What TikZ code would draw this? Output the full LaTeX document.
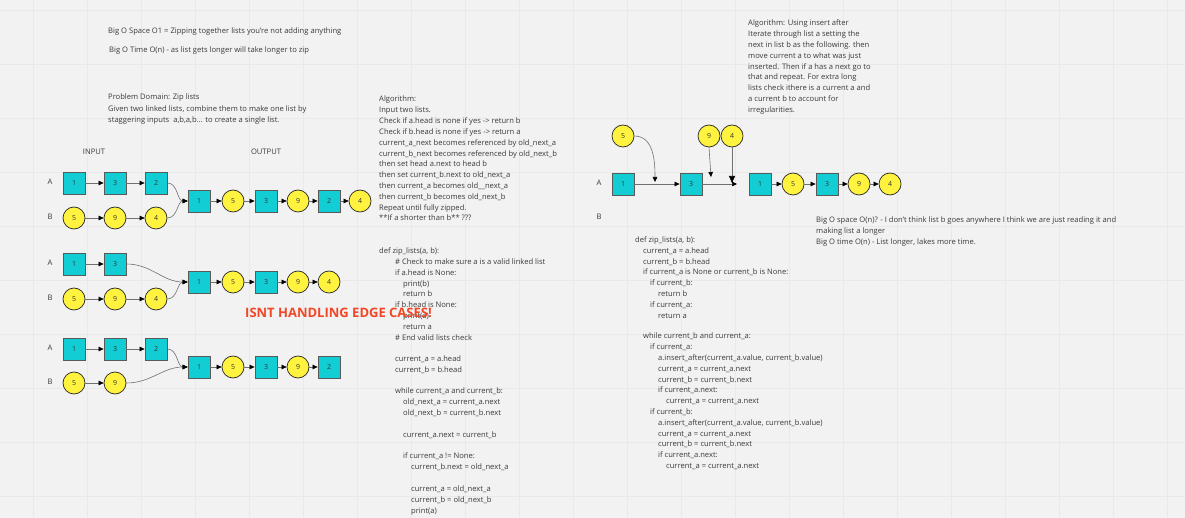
\documentclass[tikz,border=0pt]{standalone}
\usepackage{fontspec}
\setmainfont{Open Sans}
\usetikzlibrary{arrows.meta}
\definecolor{bg}{HTML}{F2F2F2}
\definecolor{gridc}{HTML}{E9E9E9}
\definecolor{teal1}{HTML}{12CDD4}
\definecolor{yel}{HTML}{FFF33F}
\definecolor{redc}{HTML}{F24726}
\definecolor{txtc}{HTML}{3A3A3A}
\definecolor{linec}{HTML}{707070}
\newcounter{tln}
\newcommand\tline[3]{\stepcounter{tln}\node[txt] (line\arabic{tln}) at (#1,#2) {#3};}
\begin{document}
\begin{tikzpicture}[x=1pt,y=-1pt,
  txt/.style={anchor=west,inner sep=0pt,font=\fontsize{7.6}{9}\selectfont,text=txtc,text height=5.4pt,text depth=1.6pt},
  lbl/.style={txt,anchor=center},
  sq/.style={draw=black!65,fill=teal1,minimum size=22pt,inner sep=0pt,line width=0.8pt,font=\fontsize{7}{8}\selectfont,text=black!80},
  cir/.style={circle,draw=black!85,fill=yel,minimum size=22pt,inner sep=0pt,line width=0.7pt,font=\fontsize{7}{8}\selectfont,text=black!80},
  arr/.style={draw=linec,line width=0.6pt,-{Triangle[length=5pt,width=4.5pt,color=black]}},
  bigarr/.style={draw=linec,line width=0.6pt,-{Triangle[length=7pt,width=6pt,color=black]}}]
\useasboundingbox (0,0) rectangle (1185,518);
\fill[bg] (0,0) rectangle (1185,518);
\foreach \x in {33,87,...,1185} \draw[gridc,line width=0.6pt] (\x,0) -- (\x,518);
\foreach \y in {10,64,...,518} \draw[gridc,line width=0.6pt] (0,\y) -- (1185,\y);

% top-left texts
\tline{108}{32}{Big O Space O1 = Zipping together lists you're not adding anything}
\tline{109}{51}{Big O Time O(n) - as list gets longer will take longer to zip}
\tline{108}{98}{Problem Domain: Zip lists}
\tline{108}{110}{Given two linked lists, combine them to make one list by}
\tline{108}{121}{staggering inputs\ \ a,b,a,b... to create a single list.}

% labels
\node[lbl] (inp) at (94,153) {INPUT};
\node[lbl] (outp) at (266,153) {OUTPUT};
\node[lbl] (la1) at (50,183) {A};
\node[lbl] (lb1) at (50,218) {B};
\node[lbl] (la2) at (50,264) {A};
\node[lbl] (lb2) at (50,299) {B};
\node[lbl] (la3) at (50,349) {A};
\node[lbl] (lb3) at (50,383) {B};
\node[lbl] (la4) at (599,184) {A};
\node[lbl] (lb4) at (599,218) {B};

% diagram 1
\node[sq] (a1) at (74,183) {1};
\node[sq] (a3) at (115,183) {3};
\node[sq] (a2) at (156,183) {2};
\node[cir] (b5) at (74,218) {5};
\node[cir] (b9) at (115,218) {9};
\node[cir] (b4) at (156,218) {4};
\node[sq] (o1) at (199,201) {1};
\node[cir] (o5) at (233,201) {5};
\node[sq] (o3) at (266,201) {3};
\node[cir] (o9) at (298,201) {9};
\node[sq] (o2) at (329,201) {2};
\node[cir] (o4) at (360,201) {4};
\draw[arr] (a1) -- (a3);
\draw[arr] (a3) -- (a2);
\draw[arr] (b5) -- (b9);
\draw[arr] (b9) -- (b4);
\draw[arr] (a2.east) to[out=0,in=180] (o1.west);
\draw[arr] (b4.east) to[out=0,in=180] (o1.west);
\draw[arr] (o1) -- (o5);
\draw[arr] (o5) -- (o3);
\draw[arr] (o3) -- (o9);
\draw[arr] (o9) -- (o2);
\draw[arr] (o2) -- (o4);

% diagram 2
\node[sq] (c1) at (74,264) {1};
\node[sq] (c3) at (115,264) {3};
\node[cir] (d5) at (74,299) {5};
\node[cir] (d9) at (115,299) {9};
\node[cir] (d4) at (156,299) {4};
\node[sq] (p1) at (199,282) {1};
\node[cir] (p5) at (233,282) {5};
\node[sq] (p3) at (266,282) {3};
\node[cir] (p9) at (298,282) {9};
\node[cir] (p4) at (329,282) {4};
\draw[arr] (c1) -- (c3);
\draw[arr] (d5) -- (d9);
\draw[arr] (d9) -- (d4);
\draw[arr] (c3.east) to[out=0,in=180] (p1.west);
\draw[arr] (d4.east) to[out=0,in=180] (p1.west);
\draw[arr] (p1) -- (p5);
\draw[arr] (p5) -- (p3);
\draw[arr] (p3) -- (p9);
\draw[arr] (p9) -- (p4);

% diagram 3
\node[sq] (e1) at (74,349) {1};
\node[sq] (e3) at (115,349) {3};
\node[sq] (e2) at (156,349) {2};
\node[cir] (f5) at (74,383) {5};
\node[cir] (f9) at (115,383) {9};
\node[sq] (q1) at (199,367) {1};
\node[cir] (q5) at (233,367) {5};
\node[sq] (q3) at (266,367) {3};
\node[cir] (q9) at (298,367) {9};
\node[sq] (q2) at (329,367) {2};
\draw[arr] (e1) -- (e3);
\draw[arr] (e3) -- (e2);
\draw[arr] (f5) -- (f9);
\draw[arr] (e2.east) to[out=0,in=180] (q1.west);
\draw[arr] (f9.east) to[out=0,in=180] (q1.west);
\draw[arr] (q1) -- (q5);
\draw[arr] (q5) -- (q3);
\draw[arr] (q3) -- (q9);
\draw[arr] (q9) -- (q2);

% right diagram
\node[sq] (r1) at (623,184) {1};
\node[sq] (r3) at (691,184) {3};
\node[cir] (r5) at (623,136) {5};
\node[cir] (r9) at (709,136) {9};
\node[cir] (r4) at (732,136) {4};
\coordinate (rend) at (737,184);
\coordinate (rin5) at (655,182);
\coordinate (rin9) at (711,177);
\coordinate (rin4) at (732,183);
\draw[arr] (r1) -- (r3);
\draw[arr] (r3.east) -- (rend);
\draw[arr] (r5.east) to[out=0,in=90] (rin5);
\draw[arr] (r9.south) -- (rin9);
\draw[bigarr] (r4.south) -- (rin4);
\node[sq] (s1) at (760,184) {1};
\node[cir] (s5) at (793,184) {5};
\node[sq] (s3) at (827,184) {3};
\node[cir] (s9) at (859,184) {9};
\node[cir] (s4) at (890,184) {4};
\draw[arr] (s1) -- (s5);
\draw[arr] (s5) -- (s3);
\draw[arr] (s3) -- (s9);
\draw[arr] (s9) -- (s4);

% algorithm block 1
\tline{379}{100}{Algorithm:}
\tline{379}{111}{Input two lists.}
\tline{379}{121.8}{Check if a.head is none if yes -> return b}
\tline{379}{132.6}{Check if b.head is none if yes -> return a}
\tline{379}{143.4}{current\_a\_next becomes referenced by old\_next\_a}
\tline{379}{154.2}{current\_b\_next becomes referenced by old\_next\_b}
\tline{379}{165}{then set head a.next to head b}
\tline{379}{175.8}{then set current\_b.next to old\_next\_a}
\tline{379}{186.6}{then current\_a becomes old\_\_next\_a}
\tline{379}{197.4}{then current\_b becomes old\_next\_b}
\tline{379}{208.2}{Repeat until fully zipped.}
\tline{379}{219}{**If a shorter than b** ???}

% code block 1
\tline{379}{252}{def zip\_lists(a, b):}
\tline{395}{263}{\# Check to make sure a is a valid linked list}
\tline{395}{274}{if a.head is None:}
\tline{403}{285}{print(b)}
\tline{403}{295}{return b}
\tline{395}{306}{if b.head is None:}
\tline{403}{317}{print(a)}
\tline{403}{328}{return a}
\tline{395}{339}{\# End valid lists check}
\tline{395}{360}{current\_a = a.head}
\tline{395}{371}{current\_b = b.head}
\tline{395}{392}{while current\_a and current\_b:}
\tline{403}{403}{old\_next\_a = current\_a.next}
\tline{403}{414}{old\_next\_b = current\_b.next}
\tline{403}{436}{current\_a.next = current\_b}
\tline{403}{457}{if current\_a != None:}
\tline{411}{468}{current\_b.next = old\_next\_a}
\tline{411}{490}{current\_a = old\_next\_a}
\tline{411}{501}{current\_b = old\_next\_b}
\tline{411}{512}{print(a)}

\node[font=\fontsize{13}{15}\selectfont\bfseries,text=redc,inner sep=0pt] (edge) at (338.5,313) {ISNT HANDLING EDGE CASES!};

% right algorithm
\tline{748}{24}{Algorithm: Using insert after}
\tline{748}{34.8}{Iterate through list a setting the}
\tline{748}{45.6}{next in list b as the following. then}
\tline{748}{56.4}{move current a to what was just}
\tline{748}{67.2}{inserted. Then if a has a next go to}
\tline{748}{78}{that and repeat. For extra long}
\tline{748}{88.8}{lists check ithere is a current a and}
\tline{748}{99.6}{a current b to account for}
\tline{748}{110.4}{irregularities.}

\tline{816}{221}{Big O space O(n)? - I don't think list b goes anywhere I think we are just reading it and}
\tline{816}{232}{making list a longer}
\tline{816}{243}{Big O time O(n) - List longer, lakes more time.}

% code block 2
\tline{635}{241}{def zip\_lists(a, b):}
\tline{643}{252}{current\_a = a.head}
\tline{643}{263}{current\_b = b.head}
\tline{643}{273}{if current\_a is None or current\_b is None:}
\tline{650}{284}{if current\_b:}
\tline{658}{295}{return b}
\tline{650}{306}{if current\_a:}
\tline{658}{317}{return a}
\tline{643}{337}{while current\_b and current\_a:}
\tline{650}{348}{if current\_a:}
\tline{658}{359}{a.insert\_after(current\_a.value, current\_b.value)}
\tline{658}{370}{current\_a = current\_a.next}
\tline{658}{380.5}{current\_b = current\_b.next}
\tline{658}{391}{if current\_a.next:}
\tline{666}{402}{current\_a = current\_a.next}
\tline{650}{413}{if current\_b:}
\tline{658}{424}{a.insert\_after(current\_a.value, current\_b.value)}
\tline{658}{434.5}{current\_a = current\_a.next}
\tline{658}{445}{current\_b = current\_b.next}
\tline{658}{456}{if current\_a.next:}
\tline{666}{467}{current\_a = current\_a.next}
\end{tikzpicture}
\end{document}
